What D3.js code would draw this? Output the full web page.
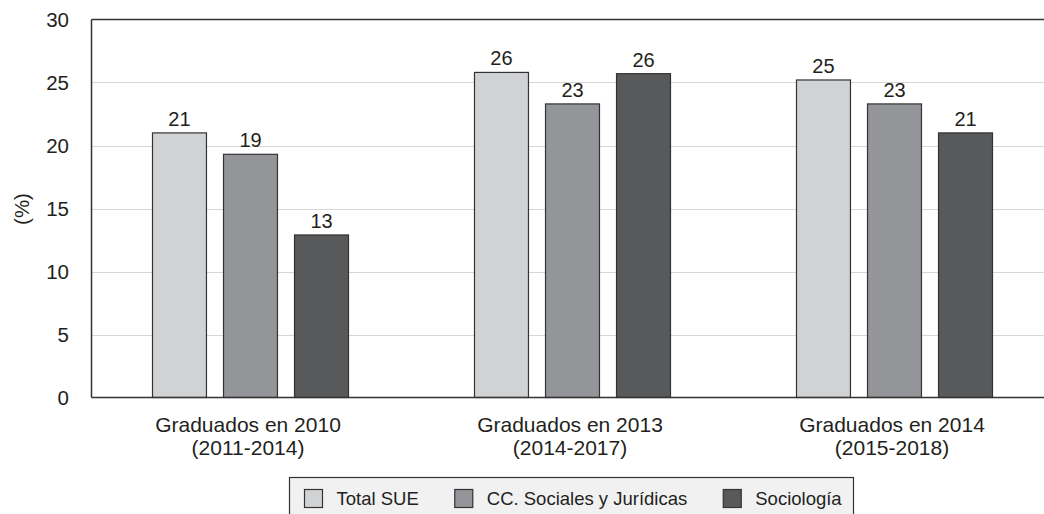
<!DOCTYPE html>
<html>
<head>
<meta charset="utf-8">
<script src="https://cdn.jsdelivr.net/npm/d3@7"></script>
<style>
  body { margin: 0; background: #fff; }
  text { font-family: "Liberation Sans", Arial, sans-serif; fill: #231f20; }
</style>
</head>
<body>
<svg width="1044" height="514"></svg>
<script>
var svg = d3.select('svg');

// data
var groups = ['Graduados en 2010|(2011-2014)', 'Graduados en 2013|(2014-2017)', 'Graduados en 2014|(2015-2018)'];
var series = ['Total SUE', 'CC. Sociales y Jurídicas', 'Sociología'];
var totalSUE = [21.0, 25.8, 25.2];
var ccSociales = [19.3, 23.3, 23.3];
var sociologia = [12.9, 25.7, 21.0];
var barLabels = [[21, 19, 13], [26, 23, 26], [25, 23, 21]];
var yTicks = [0, 5, 10, 15, 20, 25, 30];
var colors = ['#d1d2d4', '#939598', '#58595b'];

var values = [totalSUE, ccSociales, sociologia];

// layout
var plot = {l: 91.5, t: 19.5, b: 397.5};

var x0 = d3.scaleBand().domain(groups).range([89, 1055]).padding(0);
var x1 = d3.scaleBand().domain(series).range([0, 196]).paddingInner(0.24).paddingOuter(0);
var groupOffset = (x0.bandwidth() - 196) / 2;
var y = d3.scaleLinear().domain([0, 30]).range([plot.b, plot.t]);

// gridlines
svg.append('g').selectAll('line')
    .data(yTicks.filter(function(d){ return d > 0 && d < 30; }))
    .enter().append('line')
    .attr('x1', plot.l).attr('x2', 1044)
    .attr('y1', function(d){ return Math.round(y(d)) + 0.5; })
    .attr('y2', function(d){ return Math.round(y(d)) + 0.5; })
    .attr('stroke', '#d6d6d6').attr('stroke-width', 1);

// y axis labels
var yAxis = d3.axisLeft(y).tickValues(yTicks).tickSize(0).tickPadding(0);
var yG = svg.append('g').attr('transform', 'translate(' + [69, 0] + ')').call(yAxis);
yG.select('.domain').remove();
yG.selectAll('text').style('font-size', '20.5px').attr('dy', '0.36em')
    .style('font-family', '"Liberation Sans", Arial, sans-serif').attr('fill', '#231f20');

svg.append('text')
    .attr('transform', 'translate(' + [29, 209] + ')rotate(-90)')
    .attr('text-anchor', 'middle')
    .style('font-size', '20.5px')
    .text('(%)');

// bars
var gG = svg.selectAll('.grp')
    .data(groups)
    .enter().append('g')
    .attr('class', 'grp')
    .attr('transform', function(d){ return 'translate(' + [x0(d) + groupOffset, 0] + ')'; });

gG.selectAll('rect')
    .data(function(d, gi){ return series.map(function(s, si){ return {s: s, si: si, v: values[si][gi]}; }); })
    .enter().append('rect')
    .attr('x', function(d){ return x1(d.s) + 0.5; })
    .attr('y', function(d){ return y(d.v); })
    .attr('width', x1.bandwidth())
    .attr('height', function(d){ return plot.b - y(d.v); })
    .attr('fill', function(d){ return colors[d.si]; })
    .attr('stroke', '#333')
    .attr('stroke-width', 1.2);

gG.selectAll('.val')
    .data(function(d, gi){ return series.map(function(s, si){ return {s: s, v: values[si][gi], lab: barLabels[gi][si]}; }); })
    .enter().append('text')
    .attr('class', 'val')
    .attr('x', function(d){ return x1(d.s) + x1.bandwidth() / 2 + 0.5; })
    .attr('y', function(d){ return y(d.v) - 7; })
    .attr('text-anchor', 'middle')
    .style('font-size', '20px')
    .text(function(d){ return d.lab; });

// frame: left, top, bottom
svg.append('line').attr('x1', plot.l).attr('x2', plot.l).attr('y1', plot.t).attr('y2', plot.b)
    .attr('stroke', '#333').attr('stroke-width', 1.5);
svg.append('line').attr('x1', plot.l).attr('x2', 1044).attr('y1', plot.t).attr('y2', plot.t)
    .attr('stroke', '#333').attr('stroke-width', 1.5);
svg.append('line').attr('x1', plot.l).attr('x2', 1044).attr('y1', plot.b).attr('y2', plot.b)
    .attr('stroke', '#333').attr('stroke-width', 1.5);

// x category labels
var xl = svg.selectAll('.xlab')
    .data(groups)
    .enter().append('text')
    .attr('class', 'xlab')
    .attr('text-anchor', 'middle')
    .style('font-size', '21px')
    .attr('transform', function(d){ return 'translate(' + [x0(d) + x0.bandwidth() / 2 - 2, 0] + ')'; });
xl.append('tspan').attr('x', 0).attr('y', 432).text(function(d){ return d.split('|')[0]; });
xl.append('tspan').attr('x', 0).attr('y', 455).text(function(d){ return d.split('|')[1]; });

// legend
var legend = svg.append('g');
legend.append('rect')
    .attr('x', 289.5).attr('y', 477.5).attr('width', 564).attr('height', 50)
    .attr('fill', '#f1f1f2').attr('stroke', '#333').attr('stroke-width', 1.2);

var lx = 304.5;
series.forEach(function(s, i){
    legend.append('rect')
        .attr('x', lx).attr('y', 489.5).attr('width', 18).attr('height', 18)
        .attr('fill', colors[i]).attr('stroke', '#333').attr('stroke-width', 1.2);
    var t = legend.append('text')
        .attr('x', lx + 32).attr('y', 505)
        .style('font-size', '18.5px')
        .text(s);
    lx = lx + 32 + t.node().getComputedTextLength() + 36;
});
</script>
</body>
</html>
